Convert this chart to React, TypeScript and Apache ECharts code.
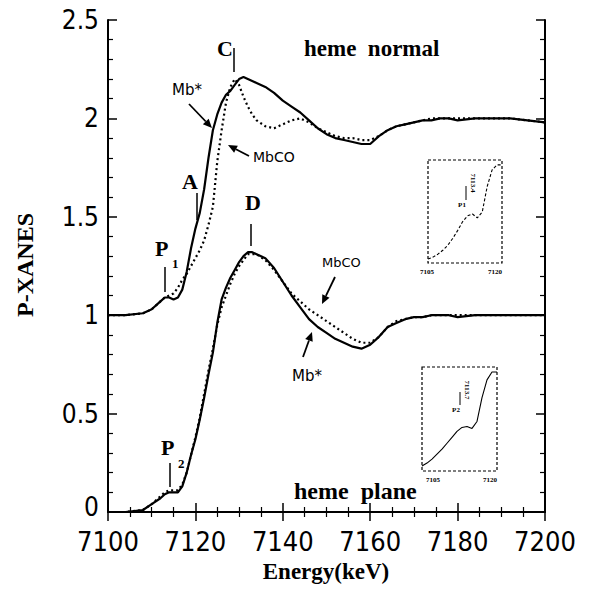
import React, { useEffect, useRef } from "react";
import * as echarts from "echarts";

const energy = [7100, 7104, 7108, 7110, 7112, 7113, 7114, 7115, 7116, 7117, 7118, 7119, 7120, 7121, 7122, 7123, 7124, 7125, 7126, 7127, 7128, 7129, 7130, 7131, 7132, 7133, 7134, 7136, 7138, 7140, 7142, 7144, 7146, 7148, 7150, 7152, 7154, 7156, 7158, 7160, 7162, 7164, 7166, 7168, 7170, 7172, 7174, 7176, 7178, 7180, 7184, 7188, 7192, 7196, 7200];

const normalMbStar = [1.0, 1.0, 1.01, 1.03, 1.07, 1.09, 1.09, 1.08, 1.09, 1.13, 1.22, 1.34, 1.44, 1.52, 1.64, 1.8, 1.94, 2.02, 2.08, 2.12, 2.14, 2.17, 2.2, 2.21, 2.2, 2.19, 2.18, 2.16, 2.13, 2.09, 2.06, 2.03, 1.99, 1.95, 1.92, 1.9, 1.89, 1.88, 1.87, 1.87, 1.91, 1.94, 1.96, 1.97, 1.98, 1.99, 1.99, 2.0, 2.0, 1.99, 2.0, 2.0, 2.0, 1.99, 1.98];

const normalMbCO = [1.0, 1.0, 1.01, 1.03, 1.07, 1.09, 1.1, 1.11, 1.14, 1.18, 1.21, 1.25, 1.29, 1.33, 1.38, 1.46, 1.55, 1.78, 1.94, 2.08, 2.16, 2.2, 2.17, 2.11, 2.06, 2.02, 1.99, 1.96, 1.95, 1.97, 1.99, 2.0, 1.98, 1.95, 1.93, 1.91, 1.9, 1.9, 1.89, 1.89, 1.91, 1.94, 1.96, 1.97, 1.98, 1.99, 2.0, 2.0, 2.0, 2.0, 2.0, 2.0, 2.0, 1.99, 1.98];

const planeMbStar = [0.0, 0.0, 0.01, 0.04, 0.07, 0.09, 0.1, 0.1, 0.1, 0.13, 0.2, 0.29, 0.37, 0.47, 0.58, 0.7, 0.81, 0.96, 1.08, 1.14, 1.19, 1.23, 1.27, 1.3, 1.32, 1.32, 1.31, 1.29, 1.24, 1.17, 1.1, 1.04, 0.98, 0.94, 0.91, 0.88, 0.86, 0.84, 0.83, 0.85, 0.89, 0.94, 0.96, 0.98, 0.99, 0.99, 1.0, 1.0, 1.0, 0.99, 1.0, 1.0, 1.0, 1.0, 1.0];

const planeMbCO = [0.0, 0.0, 0.01, 0.04, 0.08, 0.1, 0.11, 0.11, 0.11, 0.14, 0.2, 0.29, 0.38, 0.48, 0.6, 0.72, 0.83, 0.95, 1.04, 1.1, 1.16, 1.21, 1.25, 1.28, 1.31, 1.31, 1.31, 1.28, 1.23, 1.17, 1.11, 1.07, 1.03, 1.0, 0.97, 0.94, 0.91, 0.88, 0.86, 0.86, 0.89, 0.94, 0.97, 0.98, 0.99, 0.99, 1.0, 1.0, 1.0, 1.0, 1.0, 1.0, 1.0, 1.0, 1.0];

// inset pre-edge curves (relative units)
const insetEnergy = [7105, 7106, 7107, 7108, 7109, 7110, 7111, 7112, 7113, 7114, 7115, 7116, 7117, 7118, 7119, 7120];
const insetNormal = [0.04, 0.06, 0.09, 0.13, 0.18, 0.25, 0.33, 0.42, 0.48, 0.5, 0.46, 0.52, 0.78, 0.95, 1.0, 1.0];
const insetPlane = [0.05, 0.08, 0.12, 0.17, 0.22, 0.28, 0.34, 0.4, 0.44, 0.45, 0.43, 0.5, 0.74, 0.92, 1.0, 1.0];

const insetNormalPeak = "7113.4";
const insetPlanePeak = "7113.7";

const xTicks = [7100, 7120, 7140, 7160, 7180, 7200];
const yTicks = [0, 0.5, 1, 1.5, 2, 2.5];

const pair = (xs: number[], ys: number[]) => xs.map((x, i) => [x, ys[i]]);

const NUM_FONT = "'DejaVu Sans Condensed', 'DejaVu Sans', sans-serif";
const SERIF = "'Liberation Serif', 'DejaVu Serif', serif";
const HAND = "'DejaVu Sans', sans-serif";

function arrow(x1: number, y1: number, x2: number, y2: number) {
  const ang = Math.atan2(y2 - y1, x2 - x1);
  const L = 9, W = 4;
  const bx = x2 - L * Math.cos(ang), by = y2 - L * Math.sin(ang);
  const px = -Math.sin(ang) * W, py = Math.cos(ang) * W;
  return [
    { type: "line", shape: { x1, y1, x2: bx, y2: by }, style: { stroke: "#000", lineWidth: 1.8 } },
    { type: "polygon", shape: { points: [[x2, y2], [bx + px, by + py], [bx - px, by - py]] }, style: { fill: "#000" } },
  ];
}

function txt(x: number, y: number, text: string, size: number, font: string, weight = "bold", extra: any = {}, rotation = 0) {
  return {
    type: "text",
    x, y, rotation,
    style: { text, fontSize: size, fontFamily: font, fontWeight: weight, fill: "#000", ...extra },
  };
}

function vline(x: number, y1: number, y2: number, w = 1.5) {
  return { type: "line", shape: { x1: x, y1, x2: x, y2 }, style: { stroke: "#000", lineWidth: w } };
}

function box(x: number, y: number, w: number, h: number) {
  return { type: "rect", shape: { x, y, width: w, height: h }, style: { fill: "none", stroke: "#000", lineWidth: 1.2, lineDash: [3, 2] } };
}

export default function App() {
  const ref = useRef<HTMLDivElement>(null);
  useEffect(() => {
    if (!ref.current) return;
    const chart = echarts.init(ref.current, null, { renderer: "svg" });
    const axisLine = { show: true, lineStyle: { color: "#000", width: 2 } };
    const mainX = (pos: "bottom" | "top", labels: boolean) => ({
      type: "value", gridIndex: 0, position: pos, min: 7100, max: 7200, interval: 20,
      axisLine, splitLine: { show: false },
      axisTick: { show: true, inside: true, length: 9, lineStyle: { color: "#000", width: 1.5 } },
      minorTick: { show: true, splitNumber: 4, length: 5, lineStyle: { color: "#000", width: 1.2 } },
      axisLabel: { show: labels, fontSize: 27, lineHeight: 26, fontFamily: NUM_FONT, color: "#000", margin: 16,
        customValues: xTicks, formatter: (v: number) => String(v) },
    });
    const numStyle = { fontSize: 26, lineHeight: 24, fontFamily: NUM_FONT, color: "#000" };
    const mainY = (pos: "left" | "right", labels: boolean) => ({
      type: "value", gridIndex: 0, position: pos, min: 0, max: 2.5, interval: 0.5,
      axisLine, splitLine: { show: false },
      axisTick: { show: true, inside: true, length: 9, lineStyle: { color: "#000", width: 1.5 } },
      minorTick: { show: true, splitNumber: 5, length: 5, lineStyle: { color: "#000", width: 1.2 } },
      axisLabel: { show: labels, ...numStyle, margin: 9,
        customValues: yTicks,
        formatter: (v: number) => (v === 0 ? "{z|0}" : "{n|" + String(v) + "}"),
        rich: { z: { ...numStyle, padding: [0, 0, 10, 0] }, n: { ...numStyle } } },
    });
    const insetX = (g: number) => ({
      type: "value", gridIndex: g, min: 7105, max: 7120, axisLine: { show: false },
      axisTick: { show: false }, axisLabel: { show: false }, splitLine: { show: false },
    });
    const insetY = (g: number) => ({
      type: "value", gridIndex: g, min: 0, max: 1.05, axisLine: { show: false },
      axisTick: { show: false }, axisLabel: { show: false }, splitLine: { show: false },
    });
    const solid = { color: "#000", width: 2.2, type: "solid" };
    const dotted = { color: "#000", width: 2.2, type: [2, 3] };
    const option: any = {
      animation: false,
      backgroundColor: "#fff",
      grid: [
        { left: 108, right: 51, top: 20, bottom: 77 },
        { left: 428, top: 160, width: 74, height: 103 },
        { left: 422, top: 367, width: 75, height: 104 },
      ],
      xAxis: [mainX("bottom", true), mainX("top", false), insetX(1), insetX(2)],
      yAxis: [mainY("left", true), mainY("right", false), insetY(1), insetY(2)],
      series: [
        { name: "Mb* normal", type: "line", xAxisIndex: 0, yAxisIndex: 0, data: pair(energy, normalMbStar), showSymbol: false, lineStyle: solid, silent: true },
        { name: "MbCO normal", type: "line", xAxisIndex: 0, yAxisIndex: 0, data: pair(energy, normalMbCO), showSymbol: false, lineStyle: dotted, silent: true },
        { name: "Mb* plane", type: "line", xAxisIndex: 0, yAxisIndex: 0, data: pair(energy, planeMbStar), showSymbol: false, lineStyle: solid, silent: true },
        { name: "MbCO plane", type: "line", xAxisIndex: 0, yAxisIndex: 0, data: pair(energy, planeMbCO), showSymbol: false, lineStyle: dotted, silent: true },
        { name: "inset normal", type: "line", xAxisIndex: 2, yAxisIndex: 2, data: pair(insetEnergy, insetNormal), showSymbol: false, lineStyle: { color: "#000", width: 1.1, type: [3, 2] }, silent: true },
        { name: "inset plane", type: "line", xAxisIndex: 3, yAxisIndex: 3, data: pair(insetEnergy, insetPlane), showSymbol: false, lineStyle: { color: "#000", width: 1.1 }, silent: true },
      ],
      graphic: [
        txt(25, 265, "P-XANES", 24, SERIF, "bold", { align: "center", verticalAlign: "middle" }, Math.PI / 2),
        txt(326, 571, "Energy(keV)", 23, SERIF, "bold", { align: "center", verticalAlign: "middle" }),
        txt(304, 48, "heme  normal", 23, SERIF, "bold", { verticalAlign: "middle" }),
        txt(294, 491, "heme  plane", 24, SERIF, "bold", { verticalAlign: "middle" }),
        txt(217, 48, "C", 22, SERIF, "bold", { verticalAlign: "middle" }),
        vline(234, 48, 72),
        txt(245, 202, "D", 22, SERIF, "bold", { verticalAlign: "middle" }),
        vline(251, 224, 246),
        txt(182, 181, "A", 22, SERIF, "bold", { verticalAlign: "middle" }),
        vline(197, 193, 220),
        txt(155, 248, "P", 22, SERIF, "bold", { verticalAlign: "middle" }),
        txt(172, 263, "1", 13, SERIF, "bold", { verticalAlign: "middle" }),
        vline(165, 267, 292),
        txt(161, 447, "P", 22, SERIF, "bold", { verticalAlign: "middle" }),
        txt(178, 463, "2", 13, SERIF, "bold", { verticalAlign: "middle" }),
        vline(170, 463, 487),
        txt(172, 90, "Mb*", 15, HAND, "normal", { verticalAlign: "middle" }),
        ...arrow(189, 104, 212, 128),
        txt(253, 157, "MbCO", 14, HAND, "normal", { verticalAlign: "middle" }),
        ...arrow(249, 156, 228, 145),
        txt(322, 262, "MbCO", 13, HAND, "normal", { verticalAlign: "middle" }),
        ...arrow(335, 277, 322, 304),
        txt(292, 376, "Mb*", 15, HAND, "normal", { verticalAlign: "middle" }),
        ...arrow(303, 357, 312, 332),
        box(428, 160, 74, 103),
        box(422, 367, 75, 104),
        txt(427, 272, "7105", 7, SERIF, "bold", { align: "center", verticalAlign: "middle" }),
        txt(495, 272, "7120", 7, SERIF, "bold", { align: "center", verticalAlign: "middle" }),
        txt(433, 480, "7105", 7, SERIF, "bold", { align: "center", verticalAlign: "middle" }),
        txt(490, 480, "7120", 7, SERIF, "bold", { align: "center", verticalAlign: "middle" }),
        txt(462, 205, "P1", 7, SERIF, "bold", { align: "center", verticalAlign: "middle" }),
        vline(466, 186, 200, 1),
        txt(473, 183, insetNormalPeak, 7, SERIF, "bold", { align: "center", verticalAlign: "middle" }, -Math.PI / 2),
        txt(456, 410, "P2", 7, SERIF, "bold", { align: "center", verticalAlign: "middle" }),
        vline(460, 392, 405, 1),
        txt(467, 390, insetPlanePeak, 7, SERIF, "bold", { align: "center", verticalAlign: "middle" }, -Math.PI / 2),
      ],
    };
    chart.setOption(option);
    return () => chart.dispose();
  }, []);
  return <div ref={ref} style={{ width: 596, height: 589, position: "absolute", left: 0, top: 0 }} />;
}
